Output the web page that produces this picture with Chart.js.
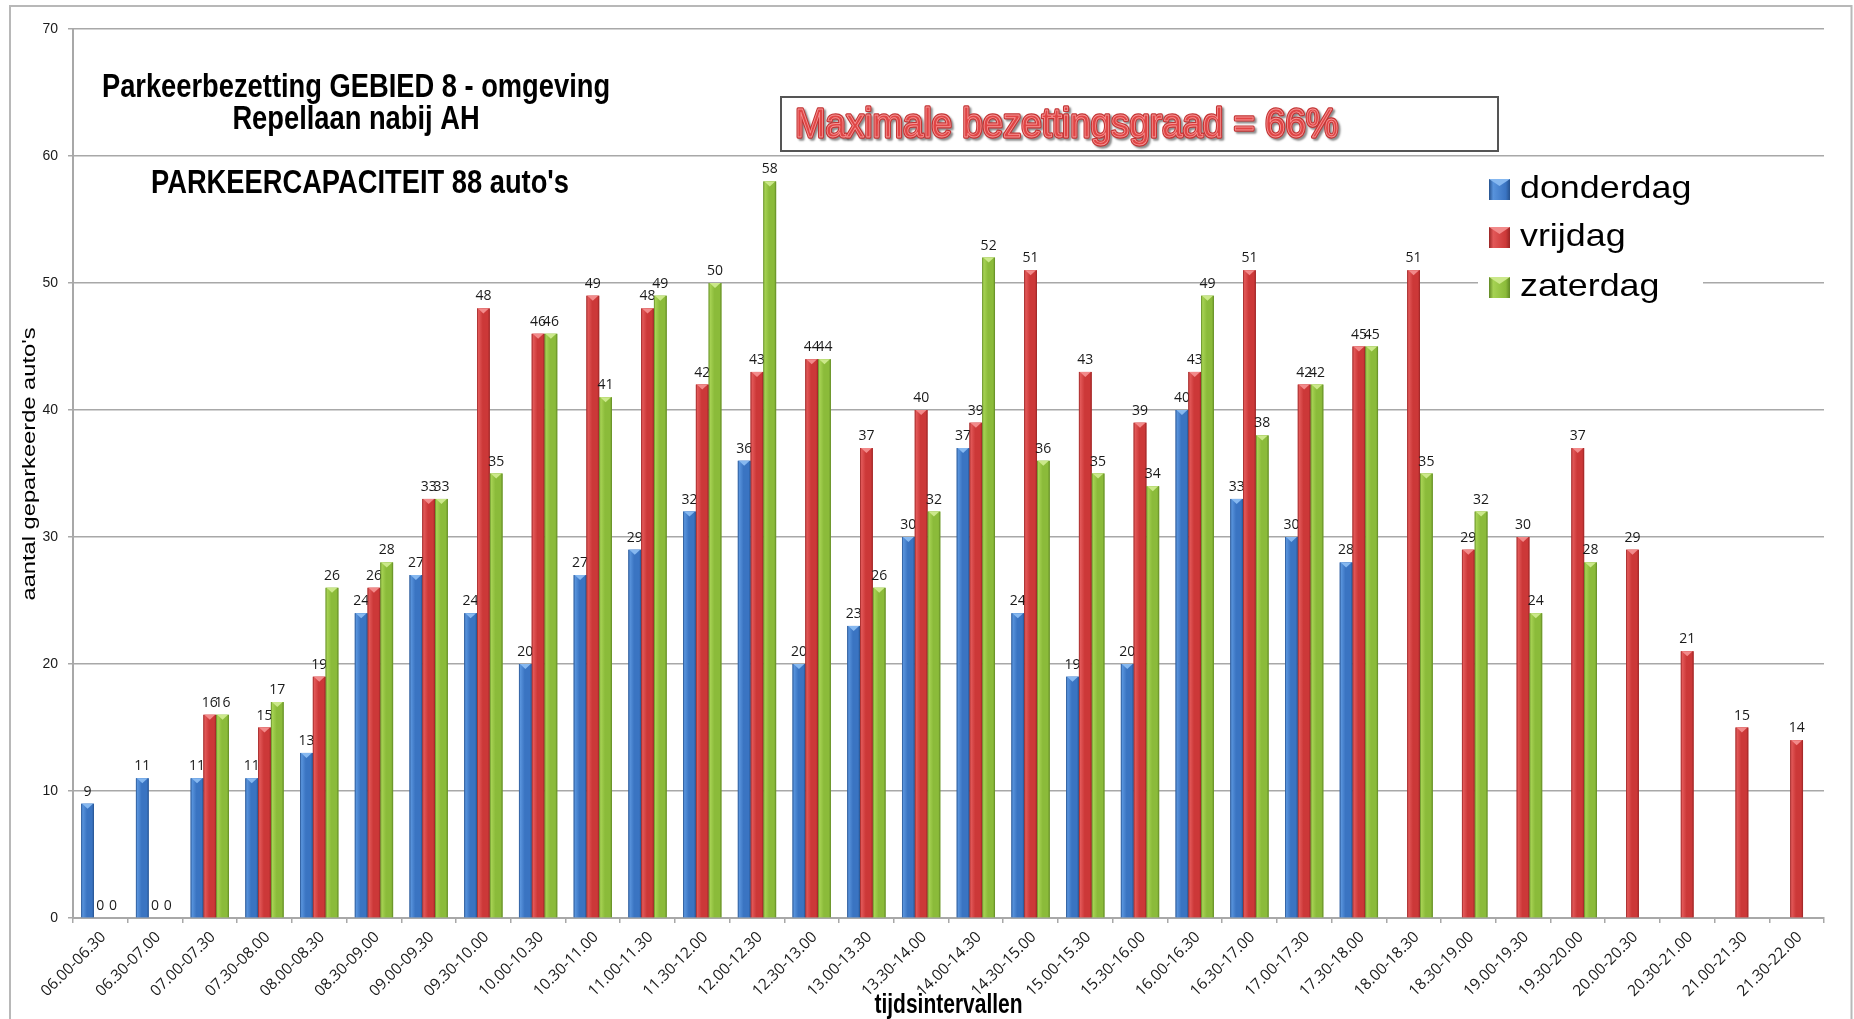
<!DOCTYPE html>
<html>
<head>
<meta charset="utf-8">
<title>Parkeerbezetting GEBIED 8</title>
<script src="https://cdn.jsdelivr.net/npm/chart.js@4/dist/chart.umd.min.js"></script>
<style>
  html, body { margin: 0; padding: 0; background: #fff; overflow: hidden; }
  #wrap { width: 1854px; height: 1019px; }
</style>
</head>
<body>
<div id="wrap"><canvas id="chart" width="1854" height="1019"></canvas></div>
<script>
// Half-hour intervals on the category axis
const categories = [
  '06.00-06.30', '06.30-07.00', '07.00-07.30', '07.30-08.00', '08.00-08.30', '08.30-09.00',
  '09.00-09.30', '09.30-10.00', '10.00-10.30', '10.30-11.00', '11.00-11.30', '11.30-12.00',
  '12.00-12.30', '12.30-13.00', '13.00-13.30', '13.30-14.00', '14.00-14.30', '14.30-15.00',
  '15.00-15.30', '15.30-16.00', '16.00-16.30', '16.30-17.00', '17.00-17.30', '17.30-18.00',
  '18.00-18.30', '18.30-19.00', '19.00-19.30', '19.30-20.00', '20.00-20.30', '20.30-21.00',
  '21.00-21.30', '21.30-22.00'
];

// Number of parked cars per interval (null = not counted)
const donderdag = [9, 11, 11, 11, 13, 24, 27, 24, 20, 27, 29, 32, 36, 20, 23, 30, 37, 24, 19, 20, 40, 33, 30, 28,
  null, null, null, null, null, null, null, null];
const vrijdag = [0, 0, 16, 15, 19, 26, 33, 48, 46, 49, 48, 42, 43, 44, 37, 40, 39, 51, 43, 39, 43, 51, 42, 45,
  51, 29, 30, 37, 29, 21, 15, 14];
const zaterdag = [0, 0, 16, 17, 26, 28, 33, 35, 46, 41, 49, 50, 58, 44, 26, 32, 52, 36, 35, 34, 49, 38, 42, 45,
  35, 32, 24, 28, null, null, null, null];

const seriesNames = ['donderdag', 'vrijdag', 'zaterdag'];

// Value axis ticks
const yMin = 0;
const yMax = 70;
const yStep = 10;

// Text blocks
const titleLines = ['Parkeerbezetting GEBIED 8 - omgeving', 'Repellaan nabij AH'];
const capacityText = "PARKEERCAPACITEIT 88 auto's";
const maxOccupancyText = 'Maximale bezettingsgraad = 66%';
const xAxisTitle = 'tijdsintervallen';
const yAxisTitle = "aantal geparkeerde auto's";

// Bevelled bar shading per series
const shades = [
  { base: '#3a74c2', dark: '#26528e', light: '#5893dc', cap: '#86b8f0' },
  { base: '#cc3838', dark: '#992424', light: '#e25858', cap: '#f28a8a' },
  { base: '#8bbb3a', dark: '#608824', light: '#a6d253', cap: '#cbe88a' }
];

function drawText(ctx, text, x, y, font, color, opts = {}) {
  ctx.save();
  ctx.translate(x, y);
  if (opts.rotate) ctx.rotate(opts.rotate);
  ctx.font = font;
  let sx = opts.sx || 1;
  if (opts.length) sx = opts.length / ctx.measureText(text).width;
  ctx.scale(sx, opts.sy || 1);
  ctx.fillStyle = color;
  ctx.textAlign = opts.align || 'center';
  ctx.textBaseline = 'middle';
  ctx.fillText(text, 0, 0);
  ctx.restore();
}

const decorations = {
  id: 'decorations',
  beforeDraw(chart) {
    const ctx = chart.ctx;
    ctx.save();
    ctx.fillStyle = '#ffffff';
    ctx.fillRect(0, 0, chart.width, chart.height);
    // outer frame
    ctx.strokeStyle = '#b8b8b8';
    ctx.lineWidth = 2;
    ctx.strokeRect(10, 6, 1841.5, 1100);
    ctx.restore();
  },
  afterDatasetsDraw(chart) {
    const ctx = chart.ctx;
    ctx.save();
    chart.data.datasets.forEach((ds, di) => {
      const meta = chart.getDatasetMeta(di);
      const s = shades[di];
      meta.data.forEach((bar, i) => {
        const v = ds.data[i];
        if (v === null || v === undefined) return;
        const p = bar.getProps(['x', 'y', 'base', 'width'], true);
        const l = p.x - p.width / 2, r = p.x + p.width / 2;
        if (v > 0) {
          const g = ctx.createLinearGradient(l, 0, r, 0);
          g.addColorStop(0, s.dark);
          g.addColorStop(0.12, s.light);
          g.addColorStop(0.45, s.base);
          g.addColorStop(0.85, s.base);
          g.addColorStop(1, s.dark);
          ctx.fillStyle = g;
          ctx.fillRect(l, p.y, p.width, p.base - p.y);
          // top bevel
          ctx.fillStyle = s.cap;
          ctx.beginPath();
          ctx.moveTo(l + 1, p.y);
          ctx.lineTo(r - 1, p.y);
          ctx.lineTo(p.x, p.y + 5);
          ctx.closePath();
          ctx.fill();
        }
        // value label
        ctx.font = '14px "Open Sans"';
        ctx.fillStyle = '#1a1a1a';
        ctx.textAlign = 'center';
        ctx.textBaseline = 'alphabetic';
        ctx.fillText(String(v), p.x, p.y - 8);
      });
    });
    ctx.restore();
  },
  afterDraw(chart) {
    const ctx = chart.ctx;
    const area = chart.chartArea;
    // chart heading
    const headFont = 'bold 27.3px "Liberation Sans"';
    drawText(ctx, titleLines[0], 356, 88, headFont, '#000', { sy: 1.22 });
    drawText(ctx, titleLines[1], 356, 120, headFont, '#000', { sy: 1.22 });
    drawText(ctx, capacityText, 360, 184, headFont, '#000', { sy: 1.22 });

    // axis titles
    drawText(ctx, xAxisTitle, (area.left + area.right) / 2, 1006, 'bold 21px "Liberation Sans"', '#000', { sy: 1.28 });
    drawText(ctx, yAxisTitle, 30, 464, '18px "Liberation Sans"', '#000', { rotate: -Math.PI / 2, length: 273 });

    // maximum occupancy box
    ctx.save();
    ctx.fillStyle = '#fff';
    ctx.fillRect(781, 97, 717, 54);
    ctx.strokeStyle = '#555';
    ctx.lineWidth = 2;
    ctx.strokeRect(781, 97, 717, 54);
    ctx.translate(795, 126);
    ctx.scale(1, 1.1);
    ctx.font = '36.7px "Liberation Sans"';
    ctx.textAlign = 'left';
    ctx.textBaseline = 'middle';
    ctx.shadowColor = 'rgba(0,0,0,0.45)';
    ctx.shadowOffsetX = 2;
    ctx.shadowOffsetY = 2;
    ctx.shadowBlur = 2;
    ctx.lineJoin = 'round';
    ctx.strokeStyle = '#c43434';
    ctx.lineWidth = 3;
    ctx.strokeText(maxOccupancyText, 0, 0);
    ctx.shadowColor = 'transparent';
    ctx.fillStyle = '#e04545';
    ctx.fillText(maxOccupancyText, 0, 0);
    ctx.strokeStyle = 'rgba(255,170,170,0.8)';
    ctx.lineWidth = 0.8;
    ctx.strokeText(maxOccupancyText, 0, 0);
    ctx.restore();

    // legend
    ctx.save();
    ctx.fillStyle = '#fff';
    ctx.fillRect(1478, 164, 225, 142);
    const rows = [189, 237, 287];
    seriesNames.forEach((name, i) => {
      const s = shades[i];
      const y = rows[i];
      const g = ctx.createLinearGradient(1489, 0, 1510, 0);
      g.addColorStop(0, s.dark);
      g.addColorStop(0.2, s.light);
      g.addColorStop(0.8, s.base);
      g.addColorStop(1, s.dark);
      ctx.fillStyle = g;
      ctx.fillRect(1489, y - 10, 21, 21);
      ctx.fillStyle = s.cap;
      ctx.beginPath();
      ctx.moveTo(1489, y - 10);
      ctx.lineTo(1510, y - 10);
      ctx.lineTo(1499.5, y - 3);
      ctx.closePath();
      ctx.fill();
      drawText(ctx, name, 1520, y, '32px "Liberation Sans"', '#000', { align: 'left', sx: 1.12 });
    });
    ctx.restore();
  }
};

const datasets = [donderdag, vrijdag, zaterdag].map((values, i) => ({
  label: seriesNames[i],
  data: values,
  backgroundColor: shades[i].base,
  borderWidth: 0,
  barPercentage: 1.0,
  categoryPercentage: 0.7
}));

new Chart(document.getElementById('chart'), {
  type: 'bar',
  data: { labels: categories, datasets },
  plugins: [decorations],
  options: {
    responsive: false,
    devicePixelRatio: 1,
    animation: false,
    layout: { padding: { top: 29, right: 30, left: 0, bottom: 0 } },
    plugins: {
      legend: { display: false },
      tooltip: { enabled: false }
    },
    scales: {
      x: {
        grid: { drawOnChartArea: false, drawTicks: true, tickLength: 5, color: '#a8a8a8', lineWidth: 1.5 },
        border: { display: true, color: '#a8a8a8', width: 2 },
        ticks: {
          color: '#1a1a1a',
          font: { family: '"Open Sans"', size: 15.5 },
          minRotation: 45,
          maxRotation: 45,
          autoSkip: false,
          labelOffset: 3,
          padding: 5
        },
        afterFit(scale) { scale.height = 101; }
      },
      y: {
        min: yMin,
        max: yMax,
        grid: { color: '#a8a8a8', lineWidth: 1.5, tickLength: 5 },
        border: { display: true, color: '#a8a8a8', width: 2 },
        ticks: {
          stepSize: yStep,
          color: '#1a1a1a',
          font: { family: '"Liberation Sans"', size: 14 },
          padding: 10
        },
        afterFit(scale) { scale.width = 73; }
      }
    }
  }
});
</script>
</body>
</html>
